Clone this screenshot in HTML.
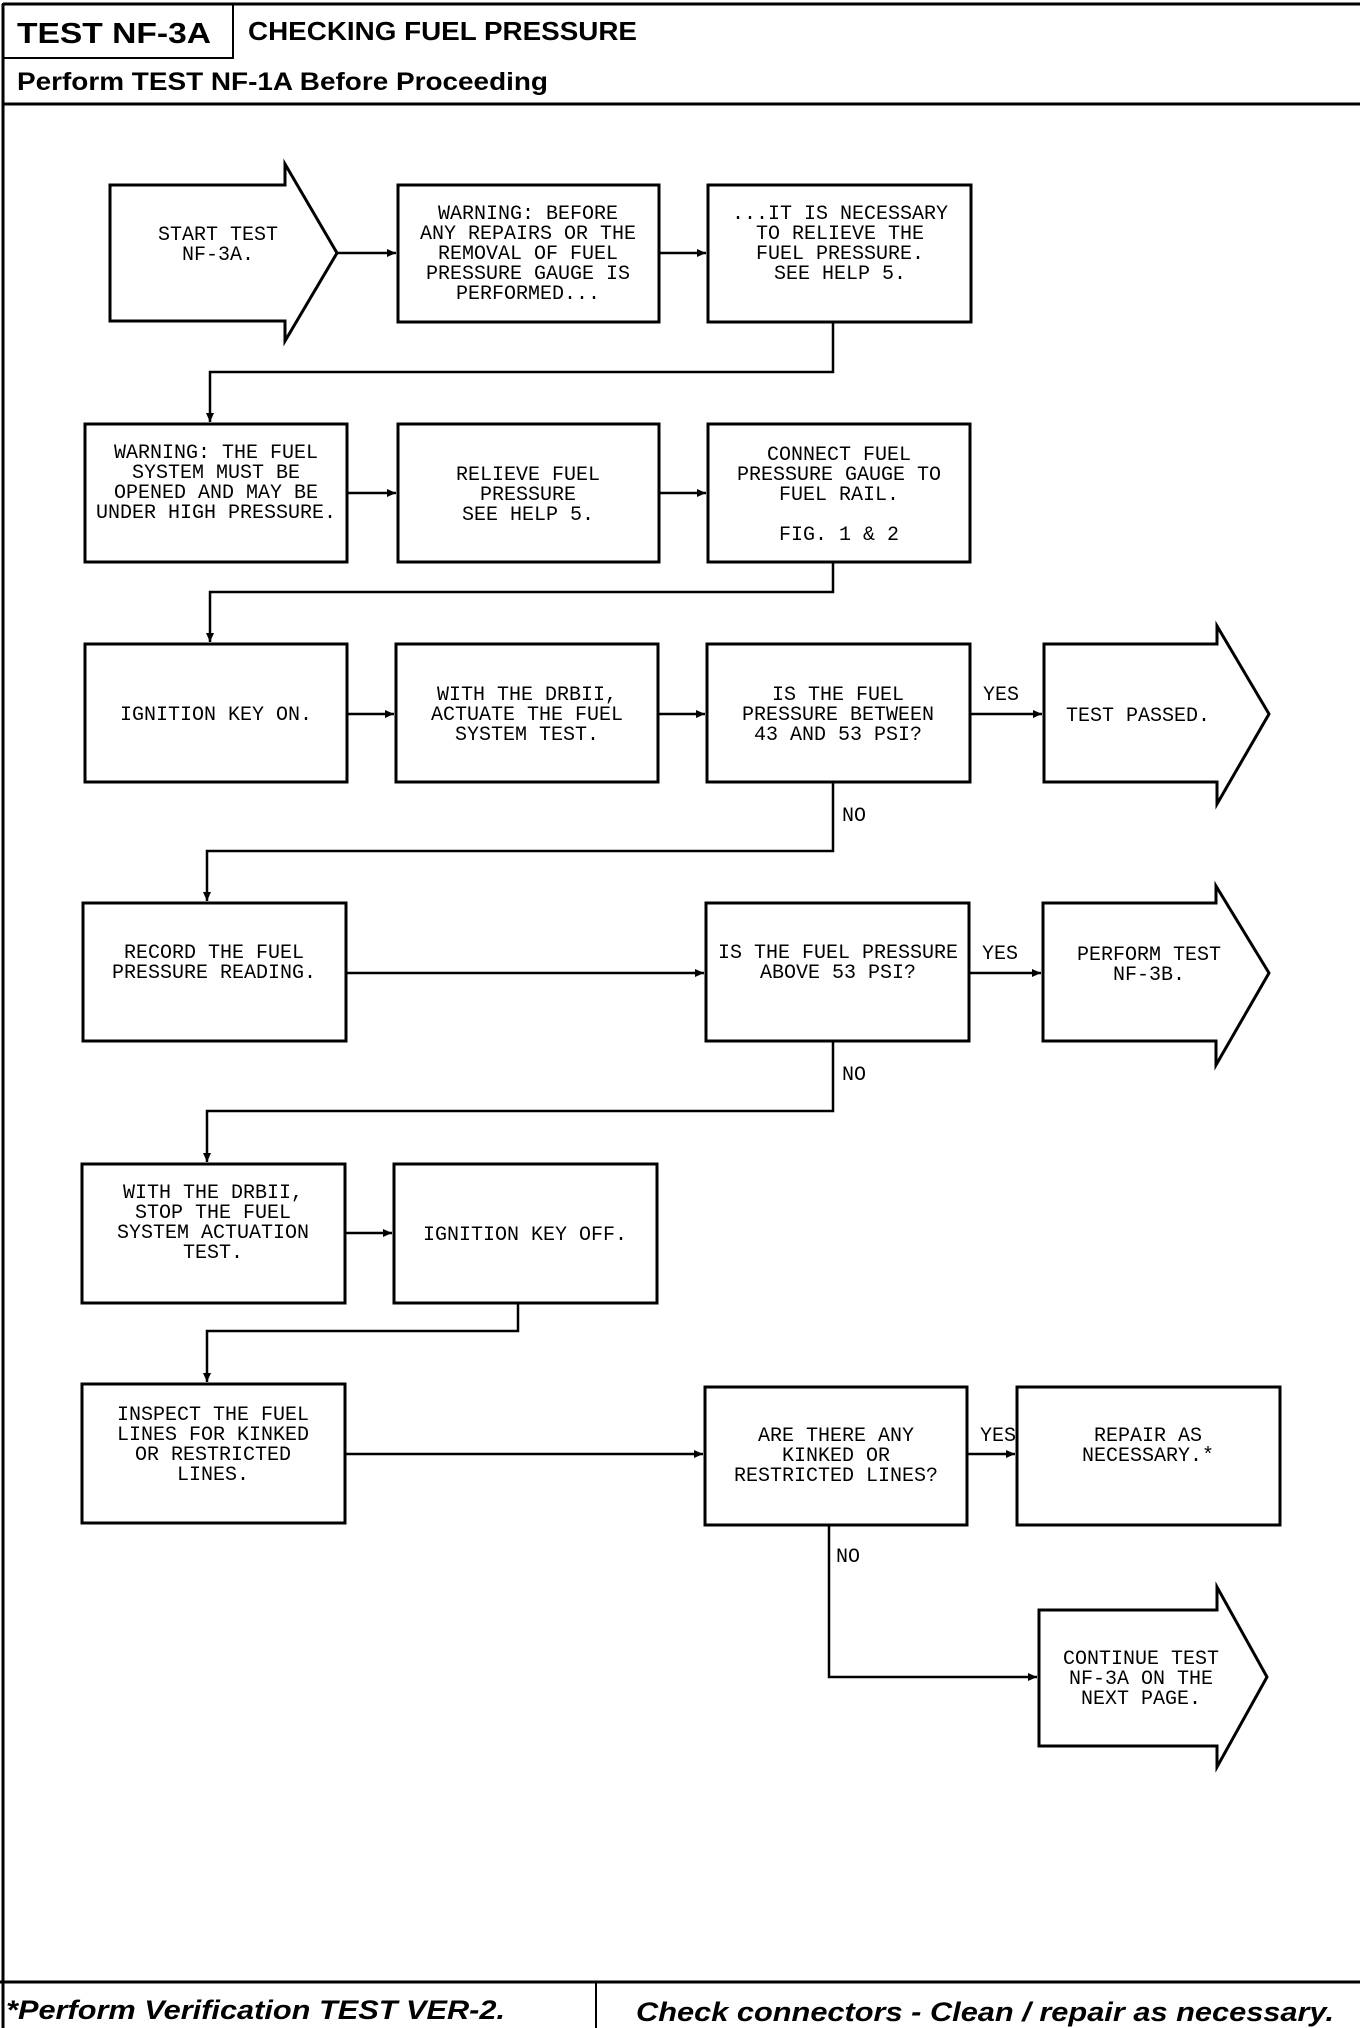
<!DOCTYPE html>
<html><head><meta charset="utf-8"><style>
html,body{margin:0;padding:0;background:#fff;}
svg{display:block;}
.t{font-family:"Liberation Mono",monospace;font-size:20px;fill:#000;text-anchor:middle;}
.l{font-family:"Liberation Mono",monospace;font-size:20px;fill:#000;}
.b{fill:#fff;stroke:#000;stroke-width:3;}
.c{fill:none;stroke:#000;stroke-width:2.5;}
.h{font-family:"Liberation Sans",sans-serif;font-weight:bold;fill:#000;}
</style></head><body>
<svg width="1360" height="2028" viewBox="0 0 1360 2028" xmlns="http://www.w3.org/2000/svg">
<defs><marker id="a" markerWidth="10" markerHeight="10" refX="9" refY="5" orient="auto" markerUnits="userSpaceOnUse"><path d="M0,1 L9,5 L0,9 Z" fill="#000"/></marker></defs>
<!-- header -->
<line x1="3" y1="4" x2="1360" y2="4" stroke="#000" stroke-width="3"/>
<line x1="3" y1="4" x2="3" y2="2028" stroke="#000" stroke-width="3"/>
<rect x="3" y="4" width="230" height="54" fill="none" stroke="#000" stroke-width="2"/>
<line x1="3" y1="104" x2="1360" y2="104" stroke="#000" stroke-width="3"/>
<text class="h" x="17" y="43" font-size="29" textLength="194" lengthAdjust="spacingAndGlyphs">TEST NF-3A</text>
<text class="h" x="248" y="40" font-size="26" textLength="389" lengthAdjust="spacingAndGlyphs">CHECKING FUEL PRESSURE</text>
<text class="h" x="17" y="90" font-size="25" textLength="531" lengthAdjust="spacingAndGlyphs">Perform TEST NF-1A Before Proceeding</text>

<!-- row1 -->
<path class="b" d="M110,185 H285 V164 L337,253 L285,341 V321 H110 Z"/>
<text class="t" x="218" y="240">START TEST</text><text class="t" x="218" y="260">NF-3A.</text>
<rect class="b" x="398" y="185" width="261" height="137"/>
<text class="t" x="528" y="219">WARNING:  BEFORE</text><text class="t" x="528" y="239">ANY REPAIRS OR THE</text><text class="t" x="528" y="259">REMOVAL OF FUEL</text><text class="t" x="528" y="279">PRESSURE GAUGE IS</text><text class="t" x="528" y="299">PERFORMED...</text>
<rect class="b" x="708" y="185" width="263" height="137"/>
<text class="t" x="840" y="219">...IT IS NECESSARY</text><text class="t" x="840" y="239">TO RELIEVE THE</text><text class="t" x="840" y="259">FUEL PRESSURE.</text><text class="t" x="840" y="279">SEE HELP 5.</text>
<line class="c" x1="337" y1="253" x2="396" y2="253" marker-end="url(#a)"/>
<line class="c" x1="659" y1="253" x2="706" y2="253" marker-end="url(#a)"/>
<polyline class="c" points="833,322 833,372 210,372 210,422" marker-end="url(#a)"/>

<!-- row2 -->
<rect class="b" x="85" y="424" width="262" height="138"/>
<text class="t" x="216" y="458">WARNING:  THE FUEL</text><text class="t" x="216" y="478">SYSTEM MUST BE</text><text class="t" x="216" y="498">OPENED AND MAY BE</text><text class="t" x="216" y="518">UNDER HIGH PRESSURE.</text>
<rect class="b" x="398" y="424" width="261" height="138"/>
<text class="t" x="528" y="480">RELIEVE FUEL</text><text class="t" x="528" y="500">PRESSURE</text><text class="t" x="528" y="520">SEE HELP 5.</text>
<rect class="b" x="708" y="424" width="262" height="138"/>
<text class="t" x="839" y="460">CONNECT FUEL</text><text class="t" x="839" y="480">PRESSURE GAUGE TO</text><text class="t" x="839" y="500">FUEL RAIL.</text><text class="t" x="839" y="540">FIG. 1 &amp; 2</text>
<line class="c" x1="347" y1="493" x2="396" y2="493" marker-end="url(#a)"/>
<line class="c" x1="659" y1="493" x2="706" y2="493" marker-end="url(#a)"/>
<polyline class="c" points="833,562 833,592 210,592 210,642" marker-end="url(#a)"/>

<!-- row3 -->
<rect class="b" x="85" y="644" width="262" height="138"/>
<text class="t" x="216" y="720">IGNITION KEY ON.</text>
<rect class="b" x="396" y="644" width="262" height="138"/>
<text class="t" x="527" y="700">WITH THE DRBII,</text><text class="t" x="527" y="720">ACTUATE THE FUEL</text><text class="t" x="527" y="740">SYSTEM TEST.</text>
<rect class="b" x="707" y="644" width="263" height="138"/>
<text class="t" x="838" y="700">IS THE FUEL</text><text class="t" x="838" y="720">PRESSURE BETWEEN</text><text class="t" x="838" y="740">43 AND 53 PSI?</text>
<line class="c" x1="347" y1="714" x2="394" y2="714" marker-end="url(#a)"/>
<line class="c" x1="658" y1="714" x2="705" y2="714" marker-end="url(#a)"/>
<line class="c" x1="970" y1="714" x2="1042" y2="714" marker-end="url(#a)"/>
<text class="l" x="983" y="700">YES</text>
<path class="b" d="M1044,644 H1217 V626 L1269,714 L1217,804 V782 H1044 Z"/>
<text class="t" x="1138" y="721">TEST PASSED.</text>
<text class="l" x="842" y="821">NO</text>
<polyline class="c" points="833,782 833,851 207,851 207,901" marker-end="url(#a)"/>

<!-- row4 -->
<rect class="b" x="83" y="903" width="263" height="138"/>
<text class="t" x="214" y="958">RECORD THE FUEL</text><text class="t" x="214" y="978">PRESSURE READING.</text>
<rect class="b" x="706" y="903" width="263" height="138"/>
<text class="t" x="838" y="958">IS THE FUEL PRESSURE</text><text class="t" x="838" y="978">ABOVE 53 PSI?</text>
<line class="c" x1="346" y1="973" x2="704" y2="973" marker-end="url(#a)"/>
<line class="c" x1="969" y1="973" x2="1041" y2="973" marker-end="url(#a)"/>
<text class="l" x="982" y="959">YES</text>
<path class="b" d="M1043,903 H1216 V886 L1269,973 L1216,1065 V1041 H1043 Z"/>
<text class="t" x="1149" y="960">PERFORM TEST</text><text class="t" x="1149" y="980">NF-3B.</text>
<text class="l" x="842" y="1080">NO</text>
<polyline class="c" points="833,1041 833,1111 207,1111 207,1162" marker-end="url(#a)"/>

<!-- row5 -->
<rect class="b" x="82" y="1164" width="263" height="139"/>
<text class="t" x="213" y="1198">WITH THE DRBII,</text><text class="t" x="213" y="1218">STOP THE FUEL</text><text class="t" x="213" y="1238">SYSTEM ACTUATION</text><text class="t" x="213" y="1258">TEST.</text>
<rect class="b" x="394" y="1164" width="263" height="139"/>
<text class="t" x="525" y="1240">IGNITION KEY OFF.</text>
<line class="c" x1="345" y1="1233" x2="392" y2="1233" marker-end="url(#a)"/>
<polyline class="c" points="518,1303 518,1331 207,1331 207,1382" marker-end="url(#a)"/>

<!-- row6 -->
<rect class="b" x="82" y="1384" width="263" height="139"/>
<text class="t" x="213" y="1420">INSPECT THE FUEL</text><text class="t" x="213" y="1440">LINES FOR KINKED</text><text class="t" x="213" y="1460">OR RESTRICTED</text><text class="t" x="213" y="1480">LINES.</text>
<rect class="b" x="705" y="1387" width="262" height="138"/>
<text class="t" x="836" y="1441">ARE THERE ANY</text><text class="t" x="836" y="1461">KINKED OR</text><text class="t" x="836" y="1481">RESTRICTED LINES?</text>
<rect class="b" x="1017" y="1387" width="263" height="138"/>
<text class="t" x="1148" y="1441">REPAIR AS</text><text class="t" x="1148" y="1461">NECESSARY.*</text>
<line class="c" x1="345" y1="1454" x2="703" y2="1454" marker-end="url(#a)"/>
<line class="c" x1="967" y1="1454" x2="1015" y2="1454" marker-end="url(#a)"/>
<text class="l" x="980" y="1441">YES</text>
<text class="l" x="836" y="1562">NO</text>
<polyline class="c" points="829,1525 829,1677 1037,1677" marker-end="url(#a)"/>
<path class="b" d="M1039,1610 H1217 V1587 L1267,1677 L1217,1767 V1746 H1039 Z"/>
<text class="t" x="1141" y="1664">CONTINUE TEST</text><text class="t" x="1141" y="1684">NF-3A ON THE</text><text class="t" x="1141" y="1704">NEXT PAGE.</text>

<!-- footer -->
<line x1="0" y1="1982" x2="1360" y2="1982" stroke="#000" stroke-width="3"/>
<line x1="596" y1="1982" x2="596" y2="2028" stroke="#000" stroke-width="2"/>
<text class="h" x="6" y="2019" font-size="27" font-style="italic" textLength="499" lengthAdjust="spacingAndGlyphs">*Perform Verification TEST VER-2.</text>
<text class="h" x="636" y="2021" font-size="27" font-style="italic" textLength="698" lengthAdjust="spacingAndGlyphs">Check connectors - Clean / repair as necessary.</text>
</svg>
</body></html>
